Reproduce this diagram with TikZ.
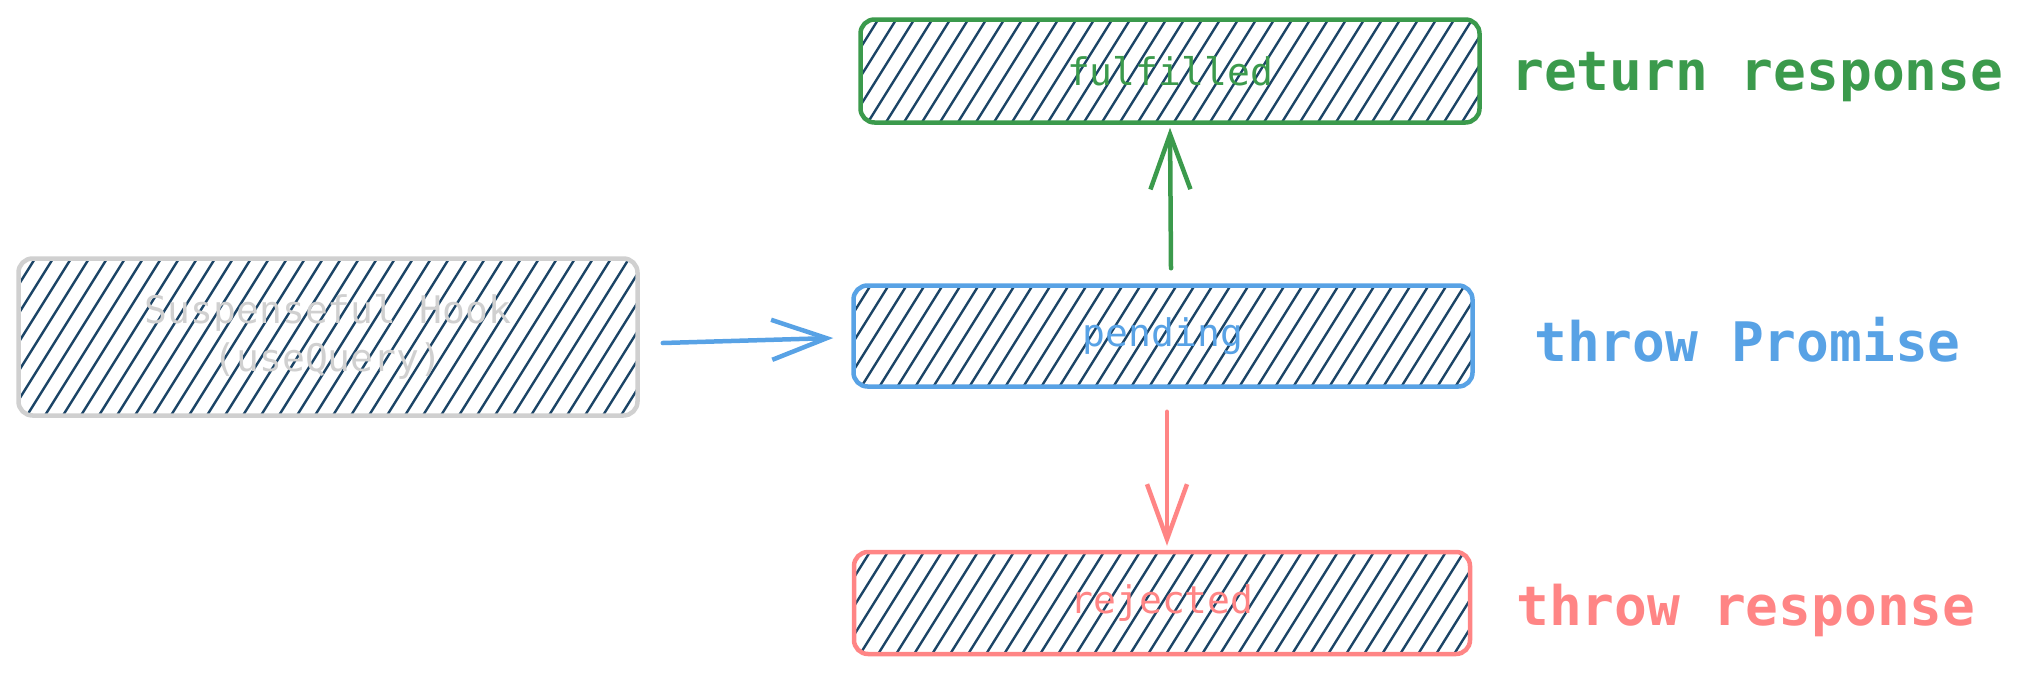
\documentclass[tikz,border=0pt]{standalone}
\usepackage{fontspec}
\setmonofont{DejaVu Sans Mono}
\usetikzlibrary{arrows.meta,calc}
\definecolor{hatchc}{HTML}{1B4466}
\definecolor{sgreen}{HTML}{3B9A4C}
\definecolor{sblue}{HTML}{58A2E5}
\definecolor{sred}{HTML}{FF8585}
\definecolor{sgray}{HTML}{D0D0D0}
\tikzset{
  hatchbox/.style={draw=#1, line width=4.5pt, rounded corners=14pt, text=#1,
    font=\ttfamily\fontsize{38}{48}\selectfont, align=center, inner sep=0pt,
    minimum width=619pt,
    path picture={\foreach \i in {-26,...,26}{
      \draw[hatchc, line width=2.4pt]
        ($(path picture bounding box.center)+(\i*18-75,120)$) -- ++(150,-240);}}},
  statelabel/.style={anchor=base west, inner sep=0pt, text=#1,
    font=\ttfamily\bfseries\fontsize{54.5}{60}\selectfont},
  sketcharrow/.style={draw=#1, line width=4.5pt, line cap=round,
    -{Straight Barb[length=55pt,width=40pt,line width=4.5pt]}},
}
\begin{document}
\begin{tikzpicture}[x=1pt,y=-1pt]
\useasboundingbox (0,0) rectangle (2022,673);
\node[hatchbox=sgray, minimum height=157pt] (hook) at (328,337) {Suspenseful Hook\\(useQuery)};
\node[hatchbox=sgreen, minimum height=103pt] (ful) at (1170,71) {fulfilled};
\node[hatchbox=sblue, minimum height=101pt] (pen) at (1163,336) {pending};
\node[hatchbox=sred, minimum height=102pt, minimum width=616pt] (rej) at (1162,603) {rejected};
\node[statelabel=sgreen] (lret) at (1511,90) {return response};
\node[statelabel=sblue] (lpro) at (1534,361) {throw Promise};
\node[statelabel=sred] (lthr) at (1516,625) {throw response};
\draw[sketcharrow=sblue] ([xshift=23pt,yshift=-6pt]hook.east) -- ([xshift=-18pt,yshift=-2pt]pen.west);
\draw[sketcharrow=sgreen] ([xshift=8pt,yshift=15pt]pen.north) -- ([yshift=-3pt]ful.south);
\draw[sketcharrow=sred] ([xshift=4pt,yshift=-23pt]pen.south) -- ([xshift=5pt,yshift=4pt]rej.north);
\end{tikzpicture}
\end{document}
